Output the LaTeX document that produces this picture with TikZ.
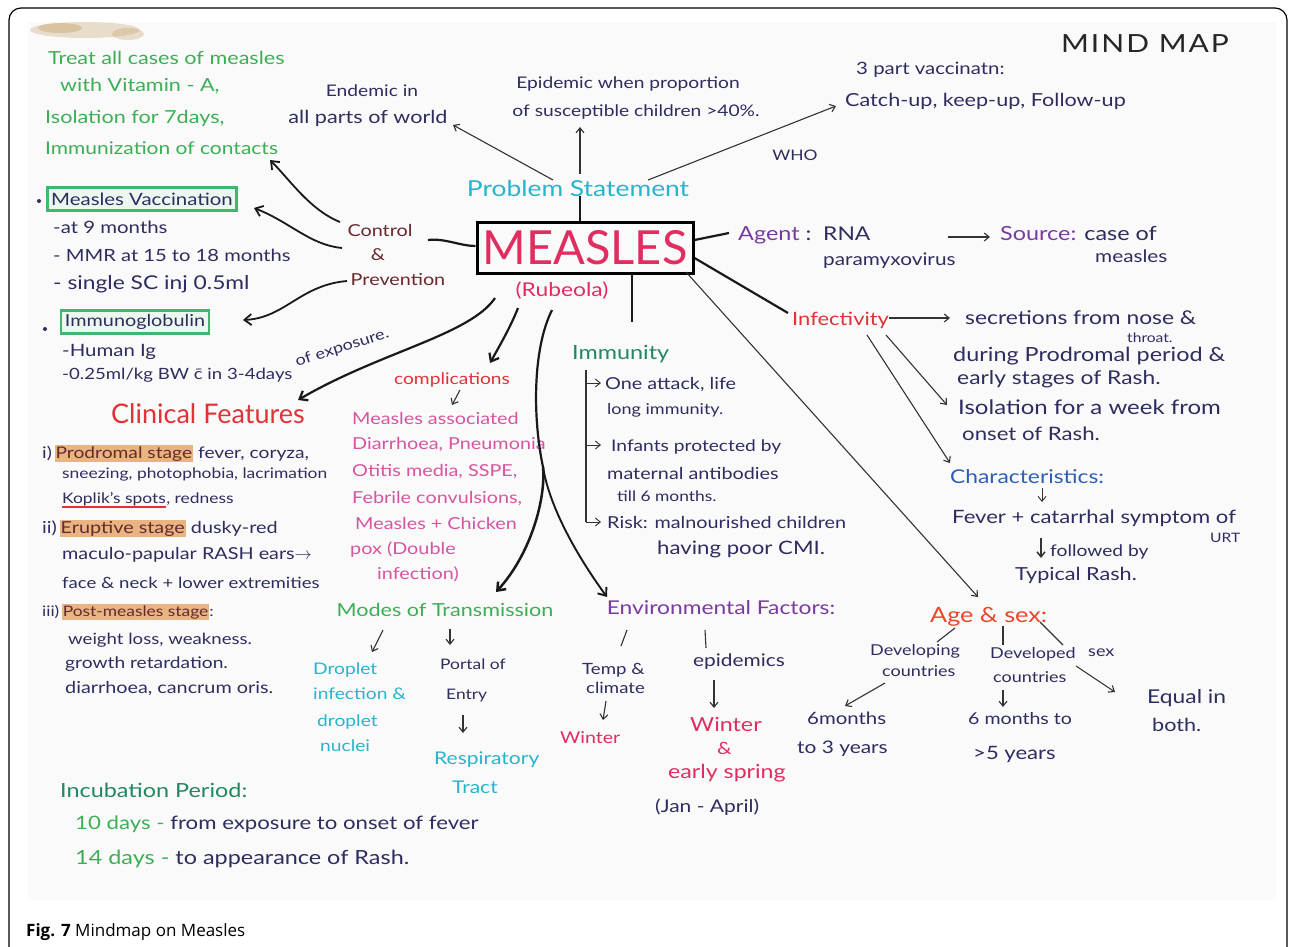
\documentclass[tikz,border=0pt]{standalone}
\usepackage{fontspec}
\setmainfont{Lato}[FakeStretch=1.2]
\newfontfamily\plainfont{Lato}
\newfontfamily\capfont{Open Sans}
\usetikzlibrary{arrows.meta}
\definecolor{ink}{RGB}{45,45,95}
\definecolor{leaf}{RGB}{60,175,85}
\definecolor{teal}{RGB}{40,180,205}
\definecolor{rose}{RGB}{225,45,95}
\definecolor{maroon}{RGB}{105,40,45}
\definecolor{violet}{RGB}{120,60,160}
\definecolor{scarlet}{RGB}{225,50,55}
\definecolor{orchid}{RGB}{215,85,160}
\definecolor{azure}{RGB}{45,95,185}
\definecolor{pine}{RGB}{35,135,95}
\definecolor{flame}{RGB}{235,70,45}
\definecolor{marker}{RGB}{232,180,130}
\definecolor{boxgreen}{RGB}{60,185,110}
\definecolor{paper}{RGB}{250,250,250}
\definecolor{stain}{RGB}{200,165,115}
\newcommand\hw[1][17]{\fontsize{#1}{#1}\selectfont}
\setlength{\fboxsep}{1pt}
\tikzset{
  hwl/.style={anchor=base west, inner sep=0pt, text=ink, font=\hw},
  hwc/.style={anchor=base, inner sep=0pt, text=ink, font=\hw},
  arr/.style={-{Straight Barb[length=5pt,width=8pt]}, line width=1.1pt, draw=black!80},
  ln/.style={line width=1.1pt, draw=black!80},
  heavy/.style={line width=2.2pt, draw=black!90},
  heavyarr/.style={heavy, -{Straight Barb[length=7pt,width=11pt]}},
  gbox/.style={draw=boxgreen, line width=2.5pt, fill=boxgreen!10, inner sep=2pt, text=ink, minimum height=23pt},
}
\begin{document}
\begin{tikzpicture}[x=1pt,y=-1pt]
\useasboundingbox (0,0) rectangle (1295,946);
\begin{scope}
  \clip (0,0) rectangle (1295,946);
  \fill[white] (0,0) rectangle (1295,946);
  \draw[line width=1.2pt, rounded corners=12pt] (9,8) rectangle (1287,995);
\end{scope}
\fill[paper] (28,22) rectangle (1276,900);
% tea stain in the top-left corner of the sheet
\fill[stain, opacity=.35] (85,30) ellipse (55pt and 8pt);
\fill[stain, opacity=.45] (60,28) ellipse (22pt and 5pt);
\fill[stain, opacity=.35] (128,34) ellipse (16pt and 6pt);

% ---------- central topic ----------
\node[draw, line width=3pt, minimum width=216pt, minimum height=51pt, inner sep=0pt,
      text=rose, font={\plainfont\hw[47]}] (measles) at (585,247.5) {MEASLES};
\node[hwc, text=rose, font={\hw[19]}] (rub) at (562,296) {(Rubeola)};

% ---------- title ----------
\node[hwc, text=black!85, font={\hw[25]\addfontfeature{LetterSpace=8}}] (title) at (1145,52) {MIND MAP};

% ---------- problem statement ----------
\node[hwc, text=teal, font={\hw[22]}] (ps) at (578,196) {Problem Statement};
\node[hwc, font={\hw[16]}] (en1) at (372,96) {Endemic in};
\node[hwc, font={\hw[18]}] (en2) at (368,123) {all parts of world};
\node[hwc, font={\hw[16]}] (ep1) at (628,88) {Epidemic when proportion};
\node[hwc, font={\hw[16]}] (ep2) at (636,116) {of susceptible children >40\%.};
\node[hwl, font={\hw[17]}] (wv1) at (856,74) {3 part vaccinatn:};
\node[hwl, font={\hw[18]}] (wv2) at (845,106) {Catch-up, keep-up, Follow-up};
\node[hwc, font={\hw[14.5]}] (who) at (795,160) {WHO};

\coordinate (psA) at (553,180); \coordinate (psB) at (453,125);
\coordinate (psC) at (580,174); \coordinate (psD) at (580,127);
\coordinate (psE) at (648,180); \coordinate (psF) at (836,106);
\draw[arr] (psA) -- (psB);
\draw[arr] (psC) -- (psD);
\draw[arr] (psE) -- (psF);
\draw[heavy] (ps.south -| 580,0) -- (measles.north -| 580,0);

% ---------- control & prevention ----------
\node[hwc, text=maroon, font={\hw[16.5]}] (ctl) at (380,236) {Control};
\node[hwc, text=maroon, font={\hw[16.5]}] (amp) at (378,260) {\&};
\node[hwc, text=maroon, font={\hw[16.5]}] (prev) at (398,285) {Prevention};
\draw[heavy] (428,240) .. controls (445,238) and (460,246) .. (measles.west |- 0,246);

\node[hwl, text=leaf, font={\hw[18]}] (v1) at (48,64) {Treat all cases of measles};
\node[hwl, text=leaf, font={\hw[18]}] (v2) at (60,91) {with Vitamin - A,};
\node[hwl, text=leaf, font={\hw[18]}] (v3) at (45,123) {Isolation for 7days,};
\node[hwl, text=leaf, font={\hw[17.5]}] (v4) at (45,154) {Immunization of contacts};

\node[gbox, minimum width=189pt, font={\hw[17]}] (mv) at (142,199) {Measles Vaccination};
\fill[ink] (39,201) circle (2pt);
\node[hwl] (mv1) at (53,233) {-at 9 months};
\node[hwl, font={\hw[16.8]}] (mv2) at (53,261) {- MMR at 15 to 18 months};
\node[hwl, font={\hw[19]}] (mv3) at (53,289) {- single SC inj 0.5ml};

\node[gbox, minimum width=148pt, font={\hw[16.5]}] (ig) at (135,322) {Immunoglobulin};
\fill[ink] (45,329) circle (2pt);
\node[hwl] (ig1) at (62,356) {-Human Ig};
\node[hwl, font={\hw[15.5]}] (ig2) at (62,379) {-0.25ml/kg BW \=c in 3-4days};
\node[hwl, rotate=18, font={\hw[15]}] (ig3) at (297,367) {of exposure.};

\coordinate (cpA) at (340,222); \coordinate (cpB) at (270,160);
\coordinate (cpC) at (342,248); \coordinate (cpD) at (254,208);
\coordinate (cpE) at (347,281); \coordinate (cpF) at (243,320);
\draw[heavyarr, line width=1.8pt] (cpA) .. controls (310,210) and (290,180) .. (cpB);
\draw[heavyarr, line width=1.8pt] (cpC) .. controls (310,245) and (290,222) .. (cpD);
\draw[heavyarr, line width=1.8pt] (cpE) .. controls (300,285) and (285,318) .. (cpF);

% ---------- clinical features ----------
\coordinate (rbA) at (495,298); \coordinate (rbB) at (298,400);
\draw[heavyarr] (rbA) .. controls (470,335) and (380,352) .. (rbB);
\node[hwc, text=scarlet, font={\plainfont\hw[27]}] (cf) at (208,423) {Clinical Features};
\node[hwl, font={\hw[16]}] (c1) at (42,458) {i)\,\colorbox{marker}{\textcolor{maroon}{Prodromal stage}} fever, coryza,};
\node[hwl, font={\hw[14.5]}] (c2) at (62,478) {sneezing, photophobia, lacrimation};
\node[hwl, font={\hw[14.5]}] (c3a) at (62,503) {Koplik's spots};
\node[hwl, font={\hw[14.5]}] (c3b) at (c3a.base east) {, redness};
\draw[scarlet, line width=1.3pt] ([yshift=-4pt]c3a.base west) -- ([yshift=-4pt]c3a.base east);
\node[hwl, font={\hw[16.5]}] (c4) at (42,533) {ii)\,\colorbox{marker}{\textcolor{maroon}{Eruptive stage}} dusky-red};
\node[hwl, font={\hw[16.5]}] (c5) at (62,559) {maculo-papular RASH ears$\rightarrow$};
\node[hwl, font={\hw[15.5]}] (c6) at (62,588) {face \& neck + lower extremities};
\node[hwl, font={\hw[14.5]}] (c7) at (42,616) {iii)\,\colorbox{marker}{\textcolor{maroon}{Post-measles stage}}:};
\node[hwl, font={\hw[15.5]}] (c8) at (68,644) {weight loss, weakness.};
\node[hwl, font={\hw[16]}] (c9) at (65,668) {growth retardation.};
\node[hwl, font={\hw[16.5]}] (c10) at (65,693) {diarrhoea, cancrum oris.};

% ---------- complications ----------
\coordinate (cmA) at (518,308); \coordinate (cmB) at (490,363);
\draw[heavyarr] (cmA) .. controls (510,328) and (500,345) .. (cmB);
\node[hwc, text=scarlet, font={\hw[16]}] (cx) at (452,384) {complications};
\coordinate (cxA) at (460,390); \coordinate (cxB) at (452,405);
\draw[arr] (cxA) -- (cxB);
\node[hwl, text=orchid, font={\hw[16.5]}] (cx1) at (352,424) {Measles associated};
\node[hwl, text=orchid, font={\hw[16.5]}] (cx2) at (352,449) {Diarrhoea, Pneumonia};
\node[hwl, text=orchid, font={\hw[16.5]}] (cx3) at (352,476) {Otitis media, SSPE,};
\node[hwl, text=orchid, font={\hw[16.5]}] (cx4) at (352,503) {Febrile convulsions,};
\node[hwl, text=orchid, font={\hw[16.5]}] (cx5) at (355,529) {Measles + Chicken};
\node[hwl, text=orchid, font={\hw[16.5]}] (cx6) at (350,554) {pox (Double};
\node[hwl, text=orchid, font={\hw[16.5]}] (cx7) at (377,579) {infection)};

% ---------- immunity ----------
\draw[heavy] (measles.south -| 632,0) -- (632,322);
\node[hwl, text=pine, font={\hw[19.5]}] (imm) at (572,359) {Immunity};
\draw[ln] (586,370) -- (586,522);
\draw[arr, line width=.9pt] (586,383) -- (601,383);
\draw[arr, line width=.9pt] (586,445) -- (601,445);
\draw[arr, line width=.9pt] (586,522) -- (601,522);
\node[hwl, font={\hw[16.5]}] (im1) at (605,389) {One attack, life};
\node[hwl, font={\hw[15]}] (im2) at (607,414) {long immunity.};
\node[hwl, font={\hw[16]}] (im3) at (611,451) {Infants protected by};
\node[hwl, font={\hw[16.5]}] (im4) at (607,479) {maternal antibodies};
\node[hwl, font={\hw[14.5]}] (im5) at (617,501) {till 6 months.};
\node[hwl, font={\hw[16.5]}] (im6) at (607,528) {Risk: malnourished children};
\node[hwl, font={\hw[18.5]}] (im7) at (657,554) {having poor CMI.};

% ---------- agent & source ----------
\draw[heavy] (measles.east |- 0,240) -- (729,233);
\node[hwl, font={\hw[19.5]}] (ag) at (738,240) {\textcolor{violet}{Agent} :};
\node[hwl, font={\hw[19]}] (rna) at (823,240) {RNA};
\node[hwl, font={\hw[17.3]}] (pmx) at (823,265) {paramyxovirus};
\coordinate (srA) at (948,237); \coordinate (srB) at (990,237);
\draw[arr] (srA) -- (srB);
\node[hwl, font={\hw[19.5]}] (src) at (1000,240) {\textcolor{violet}{Source:} case of};
\node[hwl, font={\hw[17.3]}] (src2) at (1095,262) {measles};

% ---------- infectivity ----------
\draw[heavy] (measles.east |- 0,258) -- (788,313);
\node[hwl, text=scarlet, font={\hw[18.3]}] (inf) at (792,325) {Infectivity};
\draw[arr] (inf.east |- 0,318) -- (950,318);
\node[hwl, font={\hw[19]}] (s1) at (965,324) {secretions from nose \&};
\node[hwl, font={\hw[13]}] (s2) at (1127,342) {throat.};
\node[hwl, font={\hw[19.5]}] (s3) at (953,361) {during Prodromal period \&};
\node[hwl, font={\hw[19]}] (s4) at (957,384) {early stages of Rash.};
\coordinate (ifA) at (886,335); \coordinate (ifB) at (947,405);
\coordinate (ifC) at (867,335); \coordinate (ifD) at (950,463);
\draw[arr] (ifA) -- (ifB);
\draw[arr] (ifC) -- (ifD);
\node[hwl, font={\hw[20]}] (is1) at (958,414) {Isolation for a week from};
\node[hwl, font={\hw[18.5]}] (is2) at (962,440) {onset of Rash.};
\node[hwl, text=azure, font={\hw[19]}] (ch) at (950,483) {Characteristics:};
\draw[arr, line width=.9pt] (1042,488) -- (1042,502);
\node[hwl, font={\hw[18.4]}] (f1) at (952,523) {Fever + catarrhal symptom of};
\node[hwl, font={\hw[13]}] (urt) at (1210,542) {URT};
\draw[arr, line width=1.5pt] (1041,538) -- (1041,558);
\node[hwl, font={\hw[16]}] (fb) at (1050,556) {followed by};
\node[hwl, font={\hw[18]}] (tr) at (1015,580) {Typical Rash.};

% ---------- age & sex ----------
\coordinate (agA) at (686,272); \coordinate (agB) at (978,597);
\draw[arr] (agA) -- (agB);
\node[hwl, text=flame, font={\hw[21]}] (age) at (930,622) {Age \& sex:};
\draw[ln] (955,628) -- (937,642);
\draw[ln] (1003,626) -- (1003,645);
\draw[ln] (1040,622) -- (1063,645);
\node[hwl, font={\hw[15]}] (dv1) at (870,655) {Developing};
\node[hwl, font={\hw[15]}] (dv2) at (882,676) {countries};
\node[hwl, font={\hw[15]}] (dd1) at (990,658) {Developed};
\node[hwl, font={\hw[15]}] (dd2) at (993,682) {countries};
\node[hwl, font={\hw[15]}] (sx) at (1088,656) {sex};
\draw[arr] (885,683) -- (845,706);
\draw[arr] (1003,690) -- (1003,707);
\draw[arr] (1076,666) -- (1115,692);
\node[hwl] (a1) at (807,724) {6months};
\node[hwl, font={\hw[17.4]}] (a2) at (797,753) {to 3 years};
\node[hwl, font={\hw[16.3]}] (b1) at (968,724) {6 months to};
\node[hwl, font={\hw[18.4]}] (b2) at (973,759) {>5 years};
\node[hwl, font={\hw[19]}] (eq1) at (1147,703) {Equal in};
\node[hwl, font={\hw[18]}] (eq2) at (1152,731) {both.};

% ---------- shared trunk to transmission and environment ----------
\coordinate (trA) at (552,310); \coordinate (split) at (543,467);
\draw[heavy] (trA) .. controls (532,350) and (533,420) .. (split);

% ---------- modes of transmission ----------
\coordinate (moB) at (496,592);
\draw[heavyarr, line width=2.5pt] (split) .. controls (546,500) and (530,555) .. (moB);
\node[hwc, text=leaf, font={\hw[18]}] (mot) at (445,616) {Modes of Transmission};
\draw[arr] (383,630) -- (372,652);
\draw[arr] (450,629) -- (450,645);
\node[hwl, text=teal, font={\hw[16]}] (dr1) at (313,674) {Droplet};
\node[hwl, text=teal, font={\hw[16]}] (dr2) at (313,699) {infection \&};
\node[hwl, text=teal, font={\hw[16]}] (dr3) at (317,726) {droplet};
\node[hwl, text=teal, font={\hw[16]}] (dr4) at (320,751) {nuclei};
\node[hwl, font={\hw[14.5]}] (po1) at (440,669) {Portal of};
\node[hwl, font={\hw[14.5]}] (po2) at (446,699) {Entry};
\draw[arr] (463,715) -- (463,733);
\node[hwl, text=teal, font={\hw[17.5]}] (rt1) at (434,764) {Respiratory};
\node[hwl, text=teal, font={\hw[17.5]}] (rt2) at (452,793) {Tract};

% ---------- environmental factors ----------
\coordinate (evB) at (607,597);
\draw[heavyarr, line width=1.9pt] (split) .. controls (550,510) and (580,560) .. (evB);
\node[hwc, text=violet, font={\hw[19]}] (env) at (721,614) {Environmental Factors:};
\draw[ln] (627,630) -- (621,646);
\draw[ln] (705,630) -- (706,648);
\node[hwl, font={\hw[15.5]}] (tp1) at (582,674) {Temp \&};
\node[hwl, font={\hw[15.5]}] (tp2) at (586,693) {climate};
\draw[arr] (606,701) -- (603,720);
\node[hwl, text=rose, font={\hw[16.3]}] (w1) at (560,743) {Winter};
\node[hwl, font={\hw[17.4]}] (epi) at (693,666) {epidemics};
\draw[arr] (714,680) -- (714,708);
\node[hwl, text=rose, font={\hw[19.4]}] (w2) at (690,731) {Winter};
\node[hwl, text=rose, font={\hw[17]}] (w3) at (717,754) {\&};
\node[hwl, text=rose, font={\hw[19.3]}] (w4) at (668,778) {early spring};
\node[hwl, font={\hw[17.5]}] (jan) at (655,812) {(Jan - April)};

% ---------- incubation ----------
\node[hwl, text=pine, font={\hw[19.5]}] (inc) at (60,797) {Incubation Period:};
\node[hwl, font={\hw[18.5]}] (d10) at (75,829) {\textcolor{leaf}{10 days -} from exposure to onset of fever};
\node[hwl, font={\hw[19.5]}] (d14) at (75,864) {\textcolor{leaf}{14 days -} to appearance of Rash.};

% ---------- caption ----------
\node[anchor=base west, inner sep=0pt, font={\capfont\fontsize{17}{17}\selectfont}] (cap) at (26,936) {\textbf{Fig. 7} Mindmap on Measles};
\end{tikzpicture}
\end{document}
